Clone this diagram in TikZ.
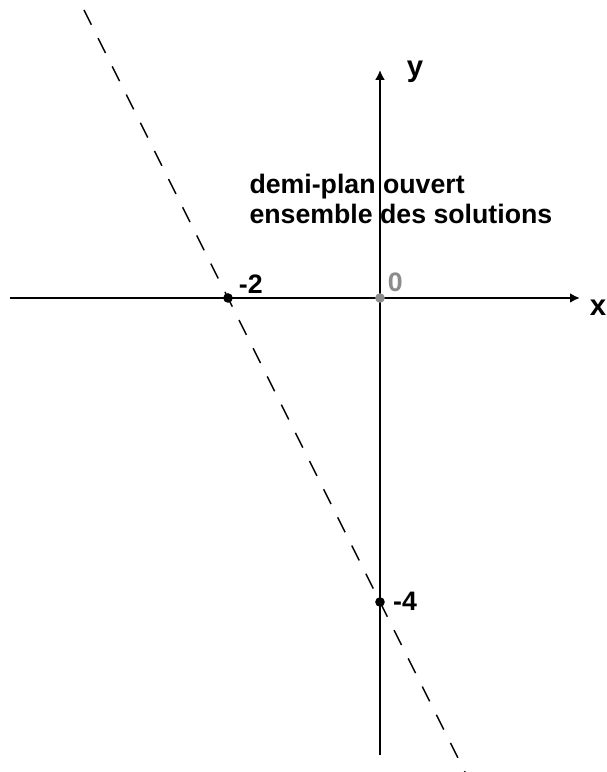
\documentclass[tikz,border=0pt]{standalone}
\usepackage{fontspec}
\setmainfont{Liberation Sans}
\usetikzlibrary{arrows.meta}
\definecolor{ptgray}{RGB}{140,140,140}
\tikzset{
  ax/.style={-{Latex[length=1.3mm,width=1.3mm]}, line width=0.7pt},
  dl/.style={line width=0.55pt, dash pattern=on 6.2pt off 5.6pt},
  pt/.style={circle, fill=black, inner sep=0pt, minimum size=3.6pt},
  lab/.style={font=\fontsize{10}{11.2}\selectfont\bfseries, inner sep=0pt},
}
\begin{document}
\begin{tikzpicture}
        \useasboundingbox (-5,-6.237) rectangle (2.974,3.921);
        % axes
        \coordinate (xl) at (-4.87,0); \coordinate (xr) at (2.63,0);
        \coordinate (yb) at (0,-6.01); \coordinate (yt) at (0,3.0);
        \draw[ax] (xl) -- (xr);
        \draw[ax] (yb) -- (yt);
        \node[lab, font=\fontsize{11}{11}\selectfont\bfseries] (xlab) at (2.87,-0.13) {x};
        \node[lab, font=\fontsize{11}{11}\selectfont\bfseries] (ylab) at (0.46,2.97) {y};
        % line y = -2x - 4
        \coordinate (d1) at (-3.895,3.79); \coordinate (d2) at (1.1185,-6.237);
        \draw[dl] (d1) -- (d2);
        \node[pt, fill=ptgray] (o) at (0,0) {};
        \node[pt] (a) at (-2,0) {};
        \node[pt] (b) at (0,-4) {};
        \node[lab, text=ptgray] (olab) at (0.2,0.2) {0};
        \node[lab] (alab) at (-1.70,0.18) {-2};
        \node[lab] (blab) at (0.33,-3.99) {-4};
        \node[lab, anchor=north west, align=left] (txt) at (-1.724,1.64)
          {demi-plan ouvert\\ensemble des solutions};
      \end{tikzpicture}
\end{document}
